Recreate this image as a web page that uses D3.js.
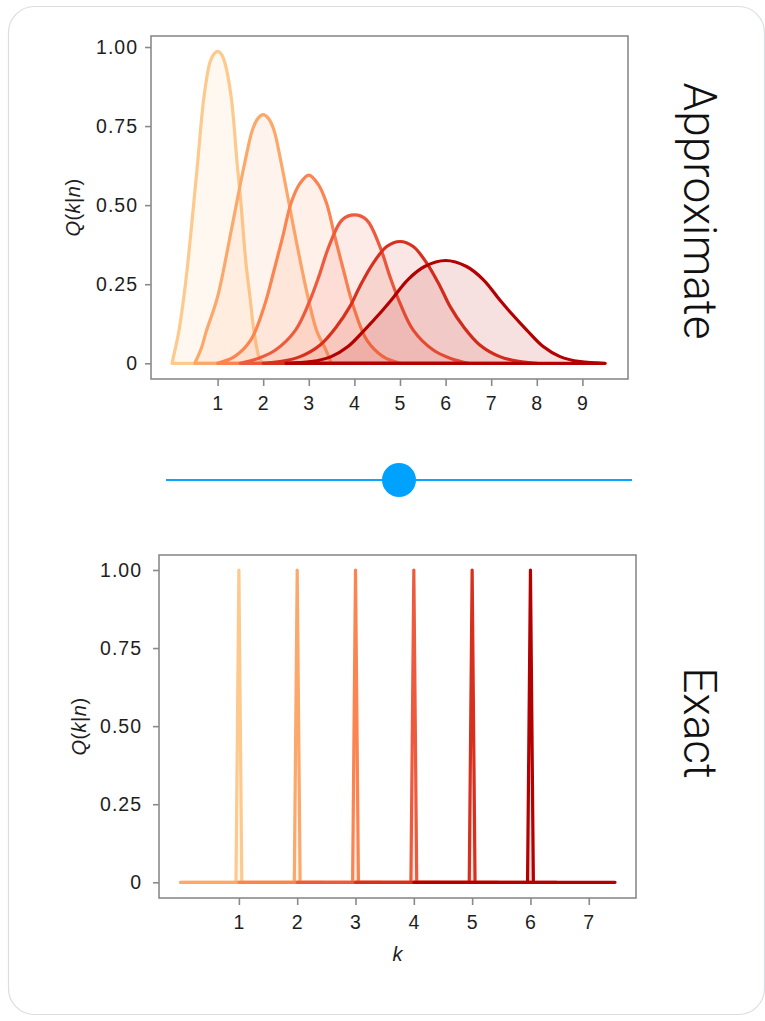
<!DOCTYPE html>
<html>
<head>
<meta charset="utf-8">
<script src="https://cdn.jsdelivr.net/npm/d3@7"></script>
<style>
  html, body { margin: 0; padding: 0; background: #fff; }
  svg { display: block; }
  .tick text { font-family: "Liberation Sans", Arial, sans-serif; fill: #1e1e1e; }
</style>
</head>
<body>
<svg id="chart" width="765" height="1021"></svg>
<script>
// ---- data ----
var colors = ["#fdc98d", "#fca86a", "#fc8451", "#ee5a3e", "#d7301f", "#b30000"];

// approximate curves, [k, Q] pairs
var approx1 = [[0,0],[0.15,0.10],[0.26,0.21],[0.35,0.32],[0.48,0.51],[0.56,0.63],[0.70,0.84],[0.83,0.95],[0.92,0.978],[1.0,0.986],[1.08,0.978],[1.16,0.95],[1.30,0.84],[1.43,0.63],[1.51,0.51],[1.62,0.32],[1.71,0.21],[1.80,0.10],[1.92,0.015],[2.0,0]];
var approx2 = [[0.5,0],[0.65,0.05],[0.75,0.10],[1.0,0.21],[1.30,0.42],[1.59,0.63],[1.77,0.74],[1.89,0.775],[2.0,0.786],[2.11,0.775],[2.23,0.74],[2.40,0.63],[2.68,0.42],[2.98,0.21],[3.18,0.10],[3.35,0.05],[3.5,0]];
var approx3 = [[1.0,0],[1.37,0.021],[1.73,0.074],[2.02,0.179],[2.24,0.295],[2.43,0.401],[2.61,0.506],[2.8,0.567],[3.0,0.595],[3.2,0.567],[3.39,0.506],[3.57,0.401],[3.76,0.295],[3.98,0.179],[4.27,0.074],[4.63,0.021],[5.0,0]];
var approx4 = [[1.5,0],[1.9,0.016],[2.27,0.042],[2.71,0.105],[3.0,0.19],[3.22,0.274],[3.44,0.369],[3.73,0.453],[4.0,0.469],[4.27,0.453],[4.56,0.369],[4.78,0.274],[5.0,0.190],[5.29,0.105],[5.73,0.042],[6.10,0.016],[6.5,0]];
var approx5 = [[2.0,0],[2.4,0.006],[2.81,0.021],[3.25,0.058],[3.61,0.116],[3.90,0.179],[4.12,0.243],[4.41,0.316],[4.71,0.369],[5.0,0.385],[5.29,0.369],[5.59,0.316],[5.88,0.243],[6.10,0.179],[6.39,0.116],[6.75,0.058],[7.19,0.021],[7.6,0.006],[8.0,0]];
var approx6 = [[2.5,0],[3.05,0.005],[3.49,0.021],[3.86,0.053],[4.22,0.105],[4.59,0.163],[4.81,0.200],[5.17,0.264],[5.54,0.306],[6.0,0.325],[6.46,0.306],[6.83,0.264],[7.19,0.200],[7.41,0.163],[7.78,0.105],[8.14,0.053],[8.51,0.021],[8.95,0.005],[9.5,0]];
var approxCurves = [approx1, approx2, approx3, approx4, approx5, approx6];

// exact curves: spike at k = n, flat elsewhere
var exactPeaks = [1, 2, 3, 4, 5, 6];
var exactStart = [0, 0, 1, 2, 3, 4];
var exactEnd = [2.45, 3.45, 4.45, 5.45, 6.45, 7.45];
var exactHalfWidth = 0.05;

var yTicks = [0, 0.25, 0.5, 0.75, 1];
var xTicksTop = [1, 2, 3, 4, 5, 6, 7, 8, 9];
var xTicksBottom = [1, 2, 3, 4, 5, 6, 7];
var sliderValue = 0.5;

var svg = d3.select("#chart");

// card outline
svg.append("rect")
    .attr("x", 8.5).attr("y", 6.5)
    .attr("width", 756).attr("height", 1008)
    .attr("rx", 26).attr("ry", 26)
    .attr("fill", "#fff")
    .attr("stroke", "#d9dee4")
    .attr("stroke-width", 1.2);

function yFormat(d) { return d === 0 ? "0" : d3.format(".2f")(d); }

function drawPanel(opt) {
    var x = d3.scaleLinear().domain(opt.xDomain).range([opt.left, opt.left + opt.width]);
    var y = d3.scaleLinear().domain(opt.yDomain).range([opt.top + opt.height, opt.top]);
    var g = svg.append("g");

    var area = d3.area()
        .x(function(d) { return x(d[0]); })
        .y0(y(0))
        .y1(function(d) { return Math.min(y(0), y(d[1])); })
        .curve(opt.curve);

    opt.curves.forEach(function(c, i) {
        g.append("path")
            .attr("d", area(c))
            .attr("fill", colors[i])
            .attr("fill-opacity", 0.12)
            .attr("stroke", colors[i])
            .attr("stroke-width", 3.2)
            .attr("stroke-linejoin", "round")
            .attr("stroke-linecap", "round");
    });

    // box
    g.append("rect")
        .attr("x", opt.left).attr("y", opt.top)
        .attr("width", opt.width).attr("height", opt.height)
        .attr("fill", "none")
        .attr("stroke", "#8a8a8a")
        .attr("stroke-width", 1.6);

    var ya = g.append("g")
        .attr("transform", "translate(" + opt.left + ",0)")
        .call(d3.axisLeft(y).tickValues(yTicks).tickFormat(yFormat).tickSize(6).tickPadding(opt.yPad));
    var xa = g.append("g")
        .attr("transform", "translate(0," + (opt.top + opt.height) + ")")
        .call(d3.axisBottom(x).tickValues(opt.xTicks).tickFormat(d3.format("d")).tickSize(7).tickPadding(opt.xPad));
    [ya, xa].forEach(function(a) {
        a.select(".domain").remove();
        a.selectAll(".tick line").attr("stroke", "#8a8a8a").attr("stroke-width", 1.6);
        a.selectAll(".tick text").style("font-size", "19.5px").attr("letter-spacing", "1px");
    });

    // y title Q(k|n)
    var t = g.append("text")
        .attr("transform", "translate(" + opt.yTitleX + "," + (opt.top + opt.height / 2) + ") rotate(-90)")
        .attr("text-anchor", "middle")
        .style("font-family", "Liberation Sans, Arial, sans-serif")
        .style("font-size", "20px")
        .attr("letter-spacing", "0.5px")
        .attr("fill", "#1e1e1e");
    t.append("tspan").style("font-style", "italic").text("Q");
    t.append("tspan").text("(");
    t.append("tspan").style("font-style", "italic").text("k");
    t.append("tspan").text("|");
    t.append("tspan").style("font-style", "italic").text("n");
    t.append("tspan").text(")");

    // panel name on the right
    svg.append("text")
        .attr("transform", "translate(" + opt.nameX + "," + opt.nameY + ") rotate(90)")
        .attr("text-anchor", "middle")
        .style("font-family", "Roboto, 'Liberation Sans', sans-serif")
        .style("font-weight", 300)
        .style("font-size", opt.nameSize + "px")
        .attr("fill", "#111")
        .text(opt.name);

    return { x: x, y: y };
}

drawPanel({
    left: 151, top: 36, width: 477, height: 343,
    xDomain: [-0.46, 10.0], yDomain: [-0.0497, 1.0348],
    curves: approxCurves, curve: d3.curveCatmullRom.alpha(0.5),
    xTicks: xTicksTop, xPad: 10, yPad: 7,
    yTitleX: 80, name: "Approximate", nameX: 684, nameY: 211, nameSize: 46
});

var exactCurves = exactPeaks.map(function(n, i) {
    return [[exactStart[i], 0], [n - exactHalfWidth, 0], [n, 1], [n + exactHalfWidth, 0], [exactEnd[i], 0]];
});

drawPanel({
    left: 159, top: 555, width: 477, height: 343,
    xDomain: [-0.37, 7.81], yDomain: [-0.0503, 1.048],
    curves: exactCurves, curve: d3.curveLinear,
    xTicks: xTicksBottom, xPad: 10, yPad: 11,
    yTitleX: 86, name: "Exact", nameX: 684, nameY: 723, nameSize: 46
});

// x title k
svg.append("text")
    .attr("x", 397.5).attr("y", 961)
    .attr("text-anchor", "middle")
    .style("font-family", "Liberation Sans, Arial, sans-serif")
    .style("font-style", "italic")
    .style("font-size", "20px")
    .attr("fill", "#1e1e1e")
    .text("k");

// slider
var sx = d3.scaleLinear().domain([0, 1]).range([166, 632]);
svg.append("line")
    .attr("x1", sx(0)).attr("x2", sx(1))
    .attr("y1", 480).attr("y2", 480)
    .attr("stroke", "#0aa5ff")
    .attr("stroke-width", 2.2);
svg.append("circle")
    .attr("cx", sx(sliderValue)).attr("cy", 480)
    .attr("r", 17)
    .attr("fill", "#00a2ff");
</script>
</body>
</html>
